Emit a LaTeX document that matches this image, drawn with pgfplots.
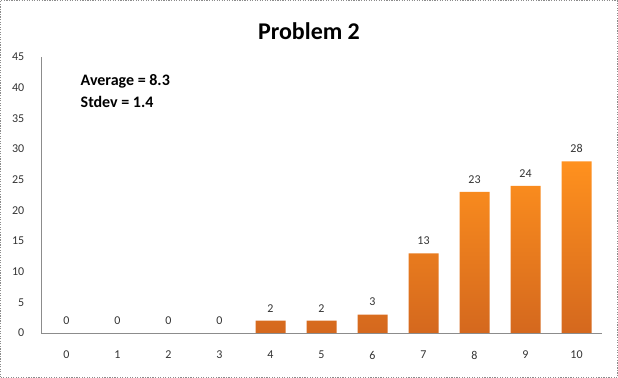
\documentclass[border=0pt]{standalone}
\usepackage{fontspec}
\setmainfont{Carlito}
\usepackage{pgfplots}
\pgfplotsset{compat=1.18}
\definecolor{barTop}{RGB}{255,145,30}
\definecolor{barBot}{RGB}{212,104,30}
\definecolor{axgray}{RGB}{140,140,140}
\begin{document}
\begin{tikzpicture}
\useasboundingbox (0pt,0pt) rectangle (463.5pt,283.5pt);
\draw[axgray, densely dotted, line width=0.9pt] (0.45pt,0.45pt) rectangle (463.05pt,283.05pt);
\node[font=\bfseries\fontsize{18}{20}\selectfont] at (231.75pt,260.25pt) {Problem 2};
\begin{axis}[
  at={(30.75pt,33.75pt)}, anchor=south west,
  scale only axis, width=420.75pt, height=207pt,
  xmin=-0.5, xmax=10.5, ymin=0, ymax=45,
  axis x line*=bottom, axis y line*=left,
  axis line style={-, axgray, line width=0.6pt},
  xtick={0,...,10}, ytick={0,5,...,45},
  major tick length=0pt,
  /pgf/number format/assume math mode=true,
  tick label style={font=\fontsize{9}{10}\selectfont, text=black!80},
  yticklabel style={xshift=-9pt},
  xticklabel style={yshift=-10pt},
  ybar, bar width=22.5pt, bar shift=0pt,
  nodes near coords,
  every node near coord/.append style={font=\fontsize{9}{10}\selectfont, text=black!80, yshift=3pt},
  clip=false,
]
\addplot[draw=none, fill=none] coordinates {(0,0) (1,0) (2,0) (3,0)};
\addplot[draw=none, top color=barTop, bottom color=barBot] coordinates {
(4,2) (5,2) (6,3) (7,13) (8,23) (9,24) (10,28)};
\end{axis}
\node[anchor=west, align=left, font=\bfseries\fontsize{12}{16.5}\selectfont] at (57pt,215.25pt) {Average = 8.3\\Stdev = 1.4};
\end{tikzpicture}
\end{document}
